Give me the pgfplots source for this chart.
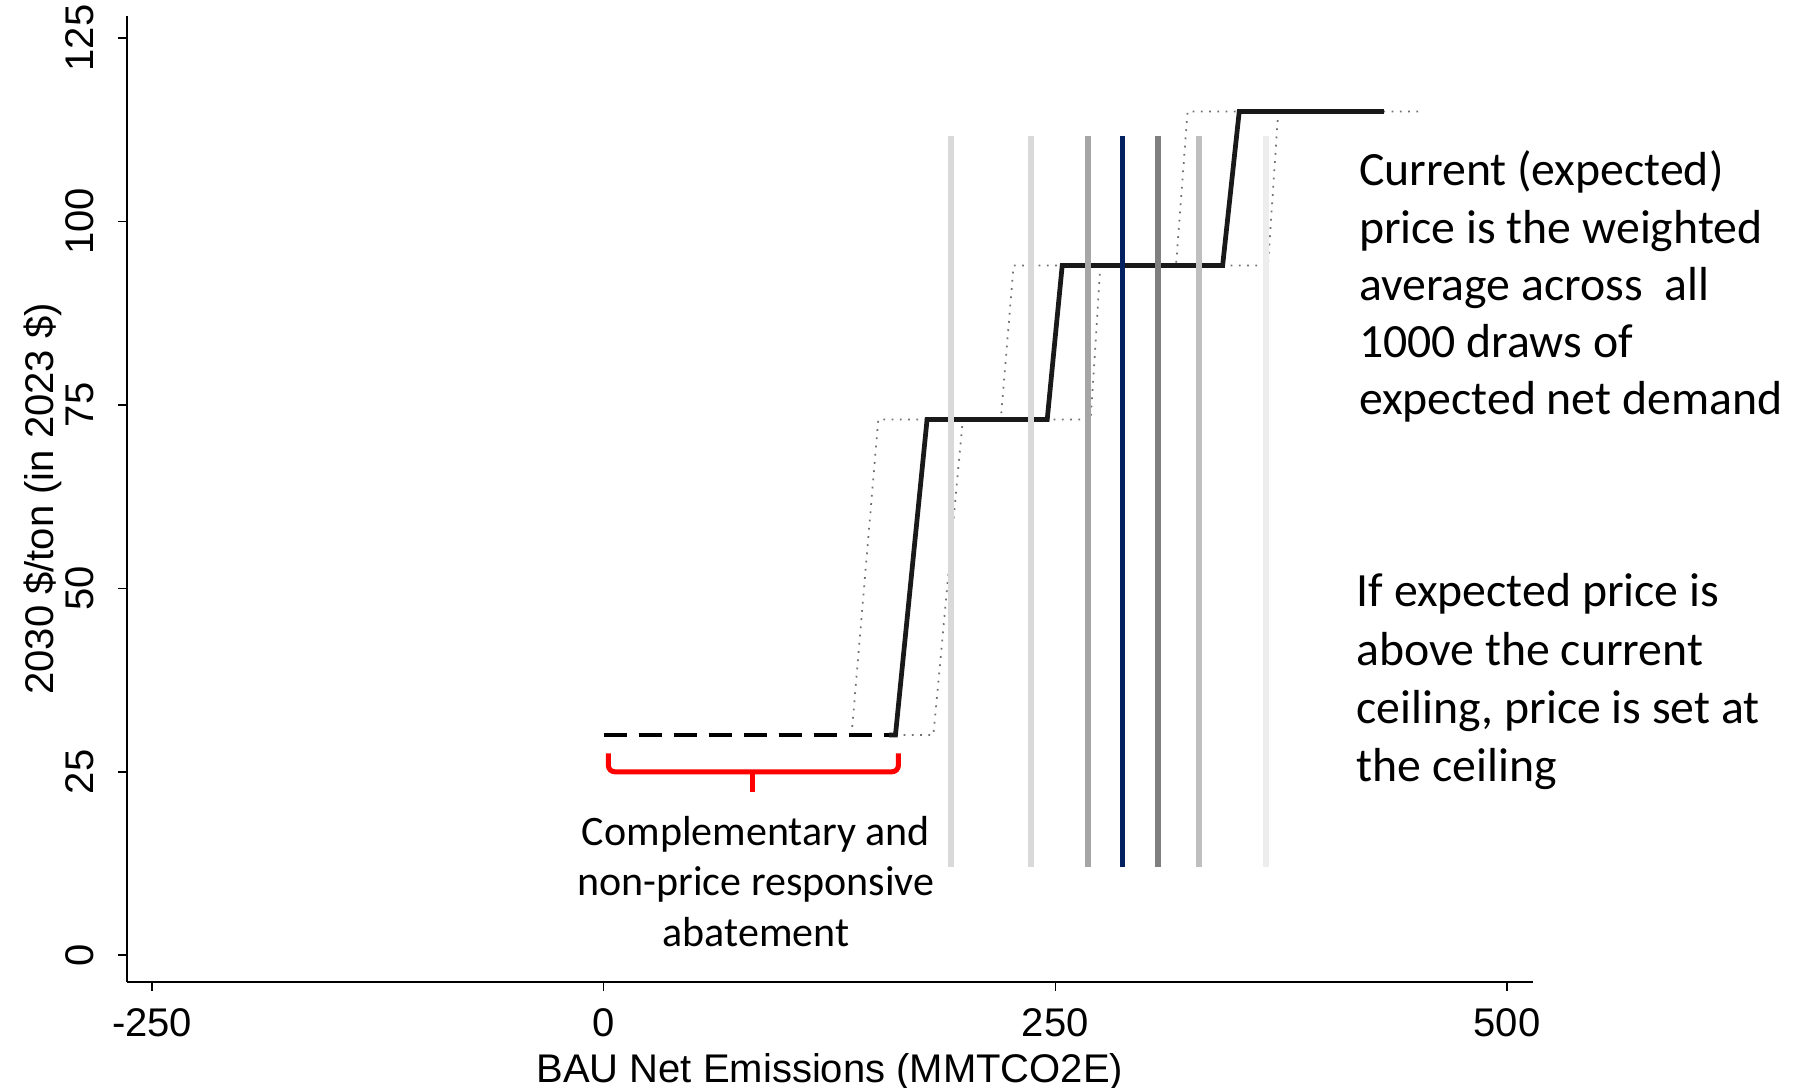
\documentclass[border=0pt]{standalone}
\usepackage{pgfplots}
\pgfplotsset{compat=1.18}
\usepackage{fontspec}
\setmainfont{Liberation Sans}
\newfontfamily\calibri{Carlito}
\definecolor{navy}{HTML}{002060}
\definecolor{gA}{HTML}{D9D9D9}
\definecolor{gB}{HTML}{A6A6A6}
\definecolor{gC}{HTML}{7F7F7F}
\definecolor{gD}{HTML}{BFBFBF}
\definecolor{gE}{HTML}{EDEDED}
\definecolor{dotgray}{HTML}{707070}
\begin{document}
\begin{tikzpicture}
\path[use as bounding box] (0,0) rectangle (718.4pt,435.2pt);
\begin{axis}[
  at={(50.85pt,42.56pt)}, anchor=south west,
  scale only axis, width=562.2pt, height=386.2pt,
  xmin=-263.8, xmax=514.2, ymin=-3.6, ymax=128.0,
  axis x line*=bottom, axis y line*=left,
  axis line style={line width=0.8pt,-},
  xtick={-250,0,250,500}, ytick={0,25,50,75,100,125},
  tick align=outside, major tick length=3.6pt,
  tick style={line width=0.6pt,black},
  /pgf/number format/assume math mode=true,
  ticklabel style={font=\fontsize{16}{19}\selectfont, inner sep=0pt},
  yticklabel style={rotate=90, anchor=south},
  xticklabel style={anchor=north},
  xticklabel shift=6.8pt, yticklabel shift=9.6pt,
  xlabel={BAU Net Emissions (MMTCO2E)},
  ylabel={2030 \$/ton (in 2023 \$)},
  label style={font=\fontsize{16}{19}\selectfont, inner sep=0pt},
  xlabel style={at={(axis description cs:0.5,-0.1041)}, anchor=base},
  ylabel style={at={(axis description cs:-0.0522,0.5)}, anchor=base},
  clip=false,
]
% dotted shifted step curves
\addplot[dotgray, line width=0.7pt, dash pattern=on 0.7pt off 2.6pt] coordinates {
 (137.2,30) (152.0,73) (219.8,73) (226.9,94) (316.8,94) (323.2,115) (407,115)};
\addplot[dotgray, line width=0.7pt, dash pattern=on 0.7pt off 2.6pt] coordinates {
 (161.5,30) (182.5,30) (198.8,73) (269.6,73) (274.9,94) (367.7,94) (373.4,115) (450.8,115)};
% main step curve
\addplot[black, line width=1.9pt, dash pattern=on 9.3pt off 4.7pt] coordinates {(0,30) (161.5,30)};
\addplot[black!90, line width=1.9pt] coordinates {
 (158,30) (161.5,30) (179.0,73) (245.5,73) (253.8,94) (342.6,94) (351.8,115) (431.8,115)};
% vertical draw lines
\addplot[gA, line width=2.3pt] coordinates {(192.1,12) (192.1,111.7)};
\addplot[gA, line width=2.3pt] coordinates {(236.5,12) (236.5,111.7)};
\addplot[gB, line width=2.3pt] coordinates {(268.2,12) (268.2,111.7)};
\addplot[navy, line width=2pt] coordinates {(287.2,12) (287.2,111.7)};
\addplot[gC, line width=2.3pt] coordinates {(306.9,12) (306.9,111.7)};
\addplot[gD, line width=2.3pt] coordinates {(329.7,12) (329.7,111.7)};
\addplot[gE, line width=2.3pt] coordinates {(366.5,12) (366.5,111.7)};
% red brace
\draw[red, line width=2pt, rounded corners=2.5pt]
  (axis cs:2.6,27.5) -- (axis cs:2.6,25) -- (axis cs:163.1,25) -- (axis cs:163.1,27.5);
\draw[red, line width=2pt] (axis cs:82.5,25) -- (axis cs:82.5,22.3);
\end{axis}
\begin{scope}[every node/.style={inner sep=0pt}]
\def\bigf{\calibri\fontsize{19.1}{23}\selectfont}
\node[anchor=base west, font=\bigf] at (543.4pt,360.9pt) {Current (expected)};
\node[anchor=base west, font=\bigf] at (543.4pt,337.9pt) {price is the weighted};
\node[anchor=base west, font=\bigf] at (543.4pt,315.0pt) {average across\ \ all};
\node[anchor=base west, font=\bigf] at (543.4pt,292.1pt) {1000 draws of};
\node[anchor=base west, font=\bigf] at (543.4pt,269.2pt) {expected net demand};
\node[anchor=base west, font=\bigf] at (542.5pt,192.4pt) {If expected price is};
\node[anchor=base west, font=\bigf] at (542.5pt,169.0pt) {above the current};
\node[anchor=base west, font=\bigf] at (542.5pt,145.6pt) {ceiling, price is set at};
\node[anchor=base west, font=\bigf] at (542.5pt,122.7pt) {the ceiling};
\def\midf{\calibri\fontsize{16.8}{20}\selectfont}
\node[anchor=base, font=\midf] at (302.4pt,97.1pt) {Complementary and};
\node[anchor=base, font=\midf] at (302.4pt,76.9pt) {non-price responsive};
\node[anchor=base, font=\midf] at (302.4pt,56.7pt) {abatement};
\end{scope}
\end{tikzpicture}
\end{document}
